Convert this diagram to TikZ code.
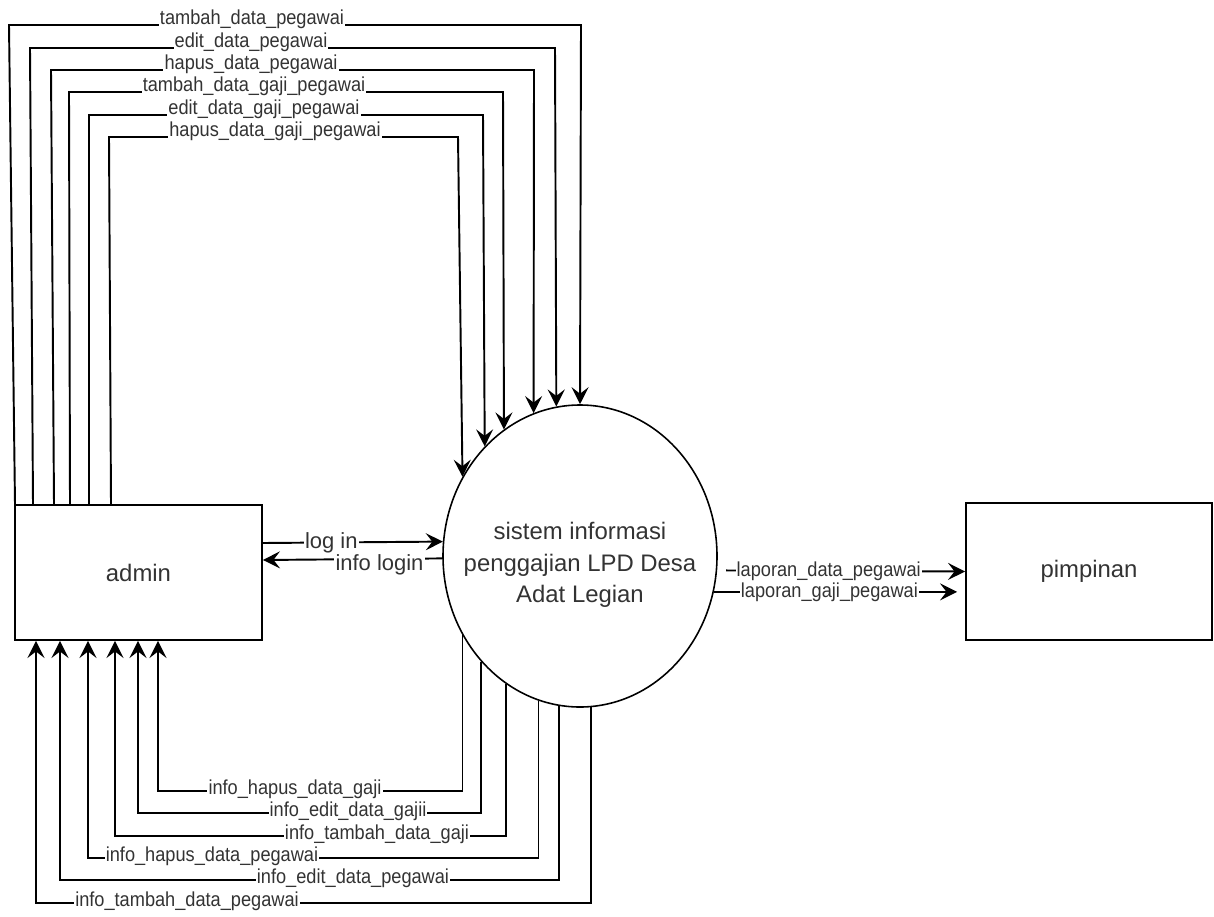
\documentclass[tikz,border=0pt]{standalone}
\usepackage{fontspec}
\setmainfont{Liberation Sans}
\newfontfamily\narrowfont{Liberation Sans}[FakeStretch=0.9]
\usetikzlibrary{arrows.meta}
\usetikzlibrary{shapes.geometric}

\begin{document}
\begin{tikzpicture}[x=0.2mm, y=-0.2mm, line width=1.1pt, >={Stealth[width=3.4mm,length=3.4mm,inset=1.3mm]},
    entity/.style={draw, text=black!80, font=\fontsize{13.6}{18}\selectfont},
    flow/.style={fill=white, inner sep=0.6pt, text=black!80, font=\narrowfont\fontsize{11.5}{12}\selectfont},
    flowbig/.style={fill=white, inner sep=0.6pt, text=black!80, font=\fontsize{12.5}{14}\selectfont}]
        \useasboundingbox (0,0) rectangle (1214,916);
        % external entities and the process
        \node[entity, minimum width=4.94cm, minimum height=2.7cm] (admin) at (138.5,572.5) {admin};
        \node[entity, minimum width=4.92cm, minimum height=2.74cm] (pimpinan) at (1089,571.5) {pimpinan};
        \node[draw, ellipse, line width=0.9pt, inner sep=0pt, minimum width=5.48cm, minimum height=6.04cm] (sys) at (580,556) {};
        \node[text=black!80, font=\fontsize{13.6}{17.9}\selectfont, align=center] (systext) at (580,565)
            {sistem informasi\\penggajian LPD Desa\\Adat Legian};
        % admin to system, over the top
        \draw[->] (15,0 |- admin.north) -- (9,25) -- (252,25) node[flow, anchor=base, yshift=0.2mm] (t1) {tambah\_data\_pegawai} -- (581,25) -- (sys.90);
        \draw[->] (33,0 |- admin.north) -- (30,48) -- (251,48) node[flow, anchor=base, yshift=0.2mm] (t2) {edit\_data\_pegawai} -- (555,48) -- (sys.99.6);
        \draw[->] (54,0 |- admin.north) -- (51,70) -- (251,70) node[flow, anchor=base, yshift=0.2mm] (t3) {hapus\_data\_pegawai} -- (534,70) -- (sys.108.3);
        \draw[->] (70,0 |- admin.north) -- (69,92) -- (254,92) node[flow, anchor=base, yshift=0.2mm] (t4) {tambah\_data\_gaji\_pegawai} -- (503,92) -- (sys.121.7);
        \draw[->] (89,0 |- admin.north) -- (89,115) -- (264,115) node[flow, anchor=base, yshift=0.2mm] (t5) {edit\_data\_gaji\_pegawai} -- (483,115) -- (sys.131.7);
        \draw[->] (111,0 |- admin.north) -- (109,137) -- (275,137) node[flow, anchor=base, yshift=0.2mm] (t6) {hapus\_data\_gaji\_pegawai} -- (458,137) -- (sys.146.1);
        % system back to admin, under the bottom
        \draw[->] (sys.214) |- (295,791) node[flow, anchor=base, yshift=-0.6mm] (b1) {info\_hapus\_data\_gaji} -| (158,0 |- admin.south);
        \draw[->] (sys.227.7) |- (348,813) node[flow, anchor=base, yshift=-0.6mm] (b2) {info\_edit\_data\_gajii} -| (138,0 |- admin.south);
        \draw[->] (sys.240.7) |- (377,836) node[flow, anchor=base, yshift=-0.6mm] (b3) {info\_tambah\_data\_gaji} -| (115,0 |- admin.south);
        \draw[->] (sys.254.5) |- (212,858) node[flow, anchor=base, yshift=-0.6mm] (b4) {info\_hapus\_data\_pegawai} -| (88,0 |- admin.south);
        \draw[->] (sys.262.8) |- (353,880) node[flow, anchor=base, yshift=-0.6mm] (b5) {info\_edit\_data\_pegawai} -| (60,0 |- admin.south);
        \draw[->] (sys.274.9) |- (187,903) node[flow, anchor=base, yshift=-0.6mm] (b6) {info\_tambah\_data\_pegawai} -| (36,0 |- admin.south);
        % login
        \draw[->] (admin.east |- 0,543) -- node[flowbig, pos=0.38] (lin) {log in} (sys.174.5);
        \draw[->] (sys.181.7) -- node[flowbig, pos=0.35, yshift=-1.2mm] (lout) {info login} (admin.east |- 0,560);
        % reports
        \draw[->, shorten <=1.8mm] (sys.-6.7) -- node[flow, pos=0.45] (r1) {laporan\_data\_pegawai} (pimpinan.west);
        \draw[->, shorten >=1.6mm] (sys.-15.6) -- node[flow, pos=0.46] (r2) {laporan\_gaji\_pegawai} (pimpinan.west |- sys.-15.6);
    \end{tikzpicture}
\end{document}
